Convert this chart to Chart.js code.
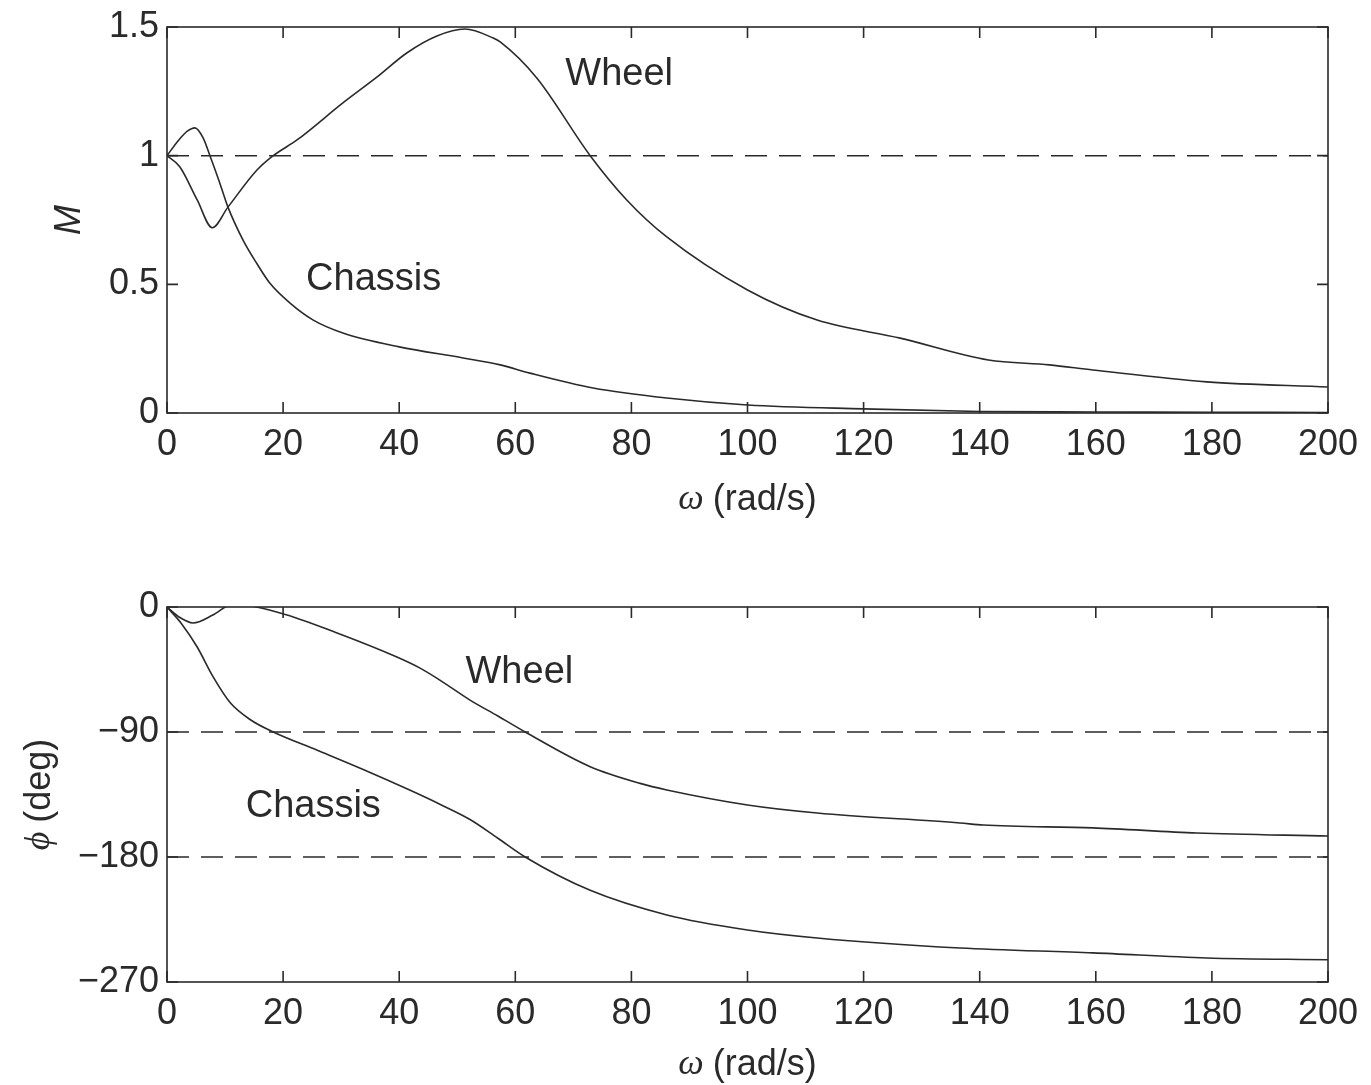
<!DOCTYPE html>
<html>
<head>
<meta charset="utf-8">
<script src="https://cdn.jsdelivr.net/npm/chart.js@4.4.1/dist/chart.umd.min.js"></script>
<style>
html,body{margin:0;padding:0;background:#fff;}
#wrap{position:relative;width:1371px;height:1085px;overflow:hidden;}
.c{position:absolute;left:0;}
</style>
</head>
<body>
<div id="wrap">
<canvas id="top" class="c" width="1371" height="545" style="top:0px"></canvas>
<canvas id="bot" class="c" width="1371" height="525" style="top:560px"></canvas>
</div>
<script>
// ---- Data ----
const magChassisW = [0, 2, 3.5, 4.8, 6.2, 7.4, 9, 10.5, 13.1, 15.5, 17.7, 21.2, 25.2, 30.3, 40, 51, 57.4, 62.5, 73.4, 86.1, 100, 120, 140, 160, 180, 200];
const magChassisM = [1, 1.06, 1.095, 1.108, 1.07, 1.0, 0.9, 0.80, 0.672, 0.58, 0.505, 0.427, 0.361, 0.311, 0.257, 0.214, 0.187, 0.155, 0.097, 0.058, 0.031, 0.016, 0.006, 0.004, 0.003, 0.002];

const magWheelW = [0, 2.2, 5.2, 7.8, 10.5, 15.5, 18.3, 22.4, 30.3, 36.2, 41.3, 46.5, 51.3, 56.2, 57.4, 63.7, 72.9, 79.2, 86.1, 100, 112, 126.3, 141.5, 152, 159.5, 179.1, 200];
const magWheelM = [1, 0.957, 0.828, 0.72, 0.80, 0.944, 1.0, 1.061, 1.205, 1.306, 1.399, 1.465, 1.492, 1.457, 1.442, 1.302, 1.0, 0.828, 0.684, 0.478, 0.361, 0.291, 0.206, 0.187, 0.167, 0.121, 0.101];

const phWheelW = [0, 2, 4.5, 7.9, 11.4, 19.5, 29.3, 39.6, 43.6, 47, 52.2, 57, 61.7, 72.9, 81.5, 86.1, 100, 112, 136.6, 140.6, 159.5, 177.4, 200];
const phWheelP = [0, -7, -11.5, -5.8, 2.2, -4.3, -18.7, -36, -44, -52.6, -67, -78.5, -90, -115, -127, -131.7, -142.5, -148.3, -155.5, -157, -159, -162.7, -164.9];

const phChassisW = [0, 2.5, 5.2, 7.9, 10.9, 14.3, 18.3, 25.8, 33.8, 41.9, 47, 52.2, 57, 61.7, 72.9, 86.1, 100, 112, 136.6, 159.5, 179.1, 200];
const phChassisP = [0, -12, -28.8, -50, -69, -81, -90, -103, -117, -132, -142, -153, -166.5, -180, -204, -221.7, -232.5, -238.3, -245.5, -249, -252.7, -254];

const refMag = [1];
const refPhase = [-90, -180];

const xTicksMin = 0, xTicksMax = 200, xTickStep = 20;
const magTicks = [0, 0.5, 1, 1.5];
const phaseTicks = [-270, -180, -90, 0];

const labelsTop = [{text: 'Wheel', x: 77.9, y: 1.314}, {text: 'Chassis', x: 35.6, y: 0.517}];
const labelsBot = [{text: 'Wheel', x: 60.7, y: -47.5}, {text: 'Chassis', x: 25.2, y: -143.3}];

// ---- Styling ----
const INK = '#2a2a2a';
const SANS = '"Liberation Sans", Arial, sans-serif';
const SERIF = '"Liberation Serif", "DejaVu Serif", serif';
const TICKFONT = 36;

function pts(xs, ys) { return xs.map((x, i) => ({x: x, y: ys[i]})); }
function refLine(v) { return [{x: xTicksMin, y: v}, {x: xTicksMax, y: v}]; }

function lineDs(data) {
  return {data: data, borderColor: INK, borderWidth: 1.6, pointRadius: 0, cubicInterpolationMode: 'monotone', fill: false};
}
function dashDs(data) {
  return {data: data, borderColor: INK, borderWidth: 1.5, pointRadius: 0, borderDash: [22, 12], tension: 0, fill: false};
}

function minusFmt(v) { return String(v).replace('-', '\u2212'); }

// frame + inward ticks + annotation plugin
function framePlugin(opts) {
  return {
    id: 'frame_' + opts.id,
    afterDatasetsDraw(chart) {
      const ctx = chart.ctx, a = chart.chartArea;
      const xs = chart.scales.x, ys = chart.scales.y;
      ctx.save();
      ctx.strokeStyle = INK;
      ctx.lineWidth = 1.6;
      ctx.strokeRect(a.left, a.top, a.right - a.left, a.bottom - a.top);
      const L = 11;
      ctx.beginPath();
      xs.ticks.forEach(t => {
        const px = xs.getPixelForValue(t.value);
        ctx.moveTo(px, a.bottom); ctx.lineTo(px, a.bottom - L);
        ctx.moveTo(px, a.top); ctx.lineTo(px, a.top + L);
      });
      ys.ticks.forEach(t => {
        const py = ys.getPixelForValue(t.value);
        ctx.moveTo(a.left, py); ctx.lineTo(a.left + L, py);
        ctx.moveTo(a.right, py); ctx.lineTo(a.right - L, py);
      });
      ctx.stroke();

      // annotations
      ctx.fillStyle = INK;
      ctx.font = '38px ' + SANS;
      ctx.textAlign = 'center';
      ctx.textBaseline = 'middle';
      opts.labels.forEach(l => {
        ctx.fillText(l.text, xs.getPixelForValue(l.x), ys.getPixelForValue(l.y));
      });

      // x axis title: italic omega + (rad/s)
      const cx = (a.left + a.right) / 2;
      const ty = a.bottom + opts.xTitleOffset;
      const omegaFont = 'italic 36px ' + SERIF;
      const restFont = '36px ' + SANS;
      ctx.font = omegaFont; const w1 = ctx.measureText('\u03c9 ').width;
      ctx.font = restFont; const w2 = ctx.measureText('(rad/s)').width;
      let sx = cx - (w1 + w2) / 2;
      ctx.textAlign = 'left';
      ctx.font = omegaFont; ctx.fillText('\u03c9 ', sx, ty);
      ctx.font = restFont; ctx.fillText('(rad/s)', sx + w1, ty);

      // y title
      const cy = (a.top + a.bottom) / 2;
      ctx.translate(opts.yTitleX, cy);
      ctx.rotate(-Math.PI / 2);
      ctx.textAlign = 'left';
      if (opts.yTitle === 'M') {
        ctx.font = 'italic 36px ' + SANS;
        const w = ctx.measureText('M').width;
        ctx.fillText('M', -w / 2, 0);
      } else {
        const f1 = 'italic 36px ' + SERIF, f2 = '36px ' + SANS;
        ctx.font = f1; const a1 = ctx.measureText('\u03d5 ').width;
        ctx.font = f2; const a2 = ctx.measureText('(deg)').width;
        const s = -(a1 + a2) / 2;
        ctx.font = f1; ctx.fillText('\u03d5 ', s, 0);
        ctx.font = f2; ctx.fillText('(deg)', s + a1, 0);
      }
      ctx.restore();
    }
  };
}

function makeChart(id, datasets, yMin, yMax, yTicks, padTop, xAxisH, labels, yTitle, yTitleX, xTitleOffset) {
  return new Chart(document.getElementById(id), {
    type: 'line',
    data: {datasets: datasets},
    options: {
      responsive: false,
      animation: false,
      events: [],
      layout: {padding: {top: padTop, right: 43, left: 0, bottom: 0}},
      plugins: {legend: {display: false}, tooltip: {enabled: false}},
      scales: {
        x: {
          type: 'linear', min: xTicksMin, max: xTicksMax,
          grid: {display: false}, border: {display: false},
          ticks: {stepSize: xTickStep, color: INK, font: {family: SANS, size: TICKFONT}, padding: 2, maxRotation: 0, autoSkip: false},
          afterFit(s) { s.height = xAxisH; }
        },
        y: {
          type: 'linear', min: yMin, max: yMax,
          grid: {display: false}, border: {display: false},
          afterBuildTicks(s) { s.ticks = yTicks.map(v => ({value: v})); },
          ticks: {color: INK, font: {family: SANS, size: TICKFONT}, padding: 0, callback: v => minusFmt(v)},
          afterFit(s) { s.width = 167; }
        }
      }
    },
    plugins: [framePlugin({id: id, labels: labels, yTitle: yTitle, yTitleX: yTitleX, xTitleOffset: xTitleOffset})]
  });
}

makeChart('top', [
  dashDs(refLine(refMag[0])),
  lineDs(pts(magWheelW, magWheelM)),
  lineDs(pts(magChassisW, magChassisM))
], 0, 1.5, magTicks, 27, 545 - 413, labelsTop, 'M', 70, 87);

makeChart('bot', [
  dashDs(refLine(refPhase[0])),
  dashDs(refLine(refPhase[1])),
  lineDs(pts(phWheelW, phWheelP)),
  lineDs(pts(phChassisW, phChassisP))
], -270, 0, phaseTicks, 47, 525 - 422, labelsBot, 'phi', 40, 83);
</script>
</body>
</html>
